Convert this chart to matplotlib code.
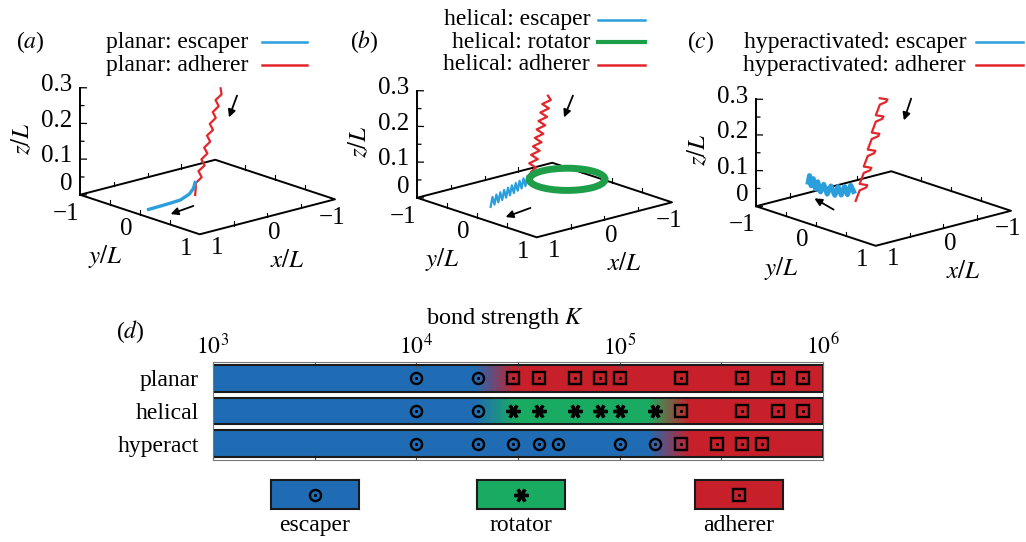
import numpy as np
import matplotlib
matplotlib.use('Agg')
import matplotlib.pyplot as plt
from matplotlib.lines import Line2D
from matplotlib.patches import Circle, FancyArrowPatch
from matplotlib.ticker import FixedLocator, NullFormatter
import mpl_toolkits.mplot3d.art3d as art3d
from mpl_toolkits.mplot3d import proj3d

plt.rcParams['font.family'] = 'serif'
plt.rcParams['font.serif'] = ['Liberation Serif', 'DejaVu Serif']
plt.rcParams['mathtext.fontset'] = 'stix'

# ---- trajectory colours / regime colours
LINE_COL = {'escaper': '#2b9fdc', 'rotator': '#1f9e4a', 'adherer': '#e3262b'}
BAR_COL = {'escaper': '#1f6cb4', 'rotator': '#1aab62', 'adherer': '#c8202a'}

# ---- panel (a): planar trajectories (x/L, y/L, z/L)
a_adherer = [(-0.150, 0.050, 0.300), (-0.157, 0.057, 0.283), (-0.110, 0.010, 0.267),
             (-0.135, 0.035, 0.250), (-0.088, -0.012, 0.233), (-0.112, 0.012, 0.217),
             (-0.065, -0.035, 0.200), (-0.090, -0.010, 0.183), (-0.043, -0.057, 0.167),
             (-0.068, -0.032, 0.150), (-0.021, -0.079, 0.133), (-0.046, -0.054, 0.117),
             (0.001, -0.101, 0.100), (-0.024, -0.076, 0.083), (0.024, -0.124, 0.067),
             (-0.001, -0.099, 0.050), (0.046, -0.146, 0.033), (0.045, -0.145, 0.020),
             (0.050, -0.150, 0.000)]
a_escaper = [(0.05, -0.15, 0.035), (0.08, -0.145, 0.02), (0.15, -0.135, 0.008),
             (0.30, -0.115, 0.0), (0.45, -0.10, 0.0), (0.60, -0.09, 0.0), (0.80, -0.08, 0.0)]

# ---- panel (b): helical trajectories
b_adherer = [(-0.050, 0.000, 0.290), (-0.092, 0.002, 0.276), (-0.043, -0.087, 0.262),
             (-0.115, -0.056, 0.248), (-0.066, -0.144, 0.234), (-0.138, -0.113, 0.220),
             (-0.089, -0.201, 0.206), (-0.161, -0.170, 0.192), (-0.112, -0.258, 0.178),
             (-0.184, -0.227, 0.164), (-0.135, -0.315, 0.150), (-0.207, -0.284, 0.136),
             (-0.158, -0.372, 0.122), (-0.230, -0.341, 0.108), (-0.181, -0.429, 0.094),
             (-0.253, -0.398, 0.080), (-0.204, -0.486, 0.066), (-0.276, -0.455, 0.052),
             (-0.257, -0.513, 0.038), (-0.269, -0.542, 0.024), (-0.280, -0.570, 0.010)]
b_escaper = [(-0.280, -0.570, 0.0), (-0.235, -0.552, 0.025), (-0.190, -0.533, 0.0),
             (-0.145, -0.515, 0.025), (-0.100, -0.496, 0.0), (-0.055, -0.478, 0.025),
             (-0.010, -0.459, 0.0), (0.035, -0.441, 0.025), (0.080, -0.422, 0.0),
             (0.125, -0.404, 0.025), (0.170, -0.385, 0.0), (0.215, -0.367, 0.025),
             (0.260, -0.348, 0.0), (0.305, -0.330, 0.025), (0.350, -0.311, 0.0),
             (0.395, -0.293, 0.025), (0.440, -0.274, 0.0), (0.485, -0.256, 0.025),
             (0.530, -0.237, 0.0), (0.575, -0.219, 0.025), (0.620, -0.200, 0.0)]
b_rotator_centre = (-0.60, -0.30)
b_rotator_radius = 0.42
b_rotator_z = 0.012

# ---- panel (c): hyperactivated trajectories
c_adherer = [(-0.14, -0.22, 0.290), (-0.20, -0.16, 0.287), (-0.19, -0.17, 0.280),
             (-0.14, -0.22, 0.272),
             (-0.11, -0.253, 0.242), (-0.17, -0.193, 0.239), (-0.16, -0.203, 0.232),
             (-0.11, -0.253, 0.224),
             (-0.08, -0.287, 0.193), (-0.14, -0.227, 0.190), (-0.13, -0.237, 0.183),
             (-0.08, -0.287, 0.175),
             (-0.05, -0.320, 0.145), (-0.11, -0.260, 0.142), (-0.10, -0.270, 0.135),
             (-0.05, -0.320, 0.127),
             (-0.02, -0.353, 0.097), (-0.08, -0.293, 0.094), (-0.07, -0.303, 0.087),
             (-0.02, -0.353, 0.079),
             (0.01, -0.387, 0.048), (-0.05, -0.327, 0.045), (-0.04, -0.337, 0.038),
             (0.01, -0.387, 0.030),
             (0.04, -0.420, 0.000)]
c_escaper = [(0.00, -0.50, 0.020), (0.03, -0.515, 0.038), (0.06, -0.535, 0.012),
             (0.09, -0.55, 0.036), (0.12, -0.57, 0.012), (0.15, -0.59, 0.036),
             (0.18, -0.61, 0.012), (0.21, -0.64, 0.038), (0.24, -0.67, 0.015),
             (0.265, -0.70, 0.042), (0.285, -0.73, 0.020), (0.305, -0.755, 0.048),
             (0.32, -0.775, 0.028), (0.335, -0.795, 0.056), (0.35, -0.815, 0.036),
             (0.36, -0.83, 0.064), (0.365, -0.845, 0.045)]

# ---- panel (d): bond strength phase diagram
rows = ['planar', 'helical', 'hyperact']
row_regimes = {'planar': ['escaper', 'adherer'],
               'helical': ['escaper', 'rotator', 'adherer'],
               'hyperact': ['escaper', 'adherer']}
row_bounds = {'planar': [2.45e4], 'helical': [2.45e4, 1.75e5], 'hyperact': [1.75e5]}
planar_esc = [1e4, 2e4]
planar_adh = [3e4, 4e4, 6e4, 8e4, 1e5, 2e5, 4e5, 6e5, 8e5]
helical_esc = [1e4, 2e4]
helical_rot = [3e4, 4e4, 6e4, 8e4, 1e5, 1.5e5]
helical_adh = [2e5, 4e5, 6e5, 8e5]
hyper_esc = [1e4, 2e4, 3e4, 4e4, 5e4, 1e5, 1.5e5]
hyper_adh = [2e5, 3e5, 4e5, 5e5]
k_ticks = [1e3, 1e4, 1e5, 1e6]
k_ticklabels = [r'$10^3$', r'$10^4$', r'$10^5$', r'$10^6$']

FW, FH = 1026, 542
fig = plt.figure(figsize=(FW / 100, FH / 100), dpi=100)


def fpx(x, y):
    return (x / FW, 1 - y / FH)


def lab(v):
    return '\u2212' + f'{abs(v):g}' if v < 0 else f'{v:g}'


def label3d(ax, x, y, z, s, **kw):
    # project the 3D anchor with the axes' own projection, then place a 2D text
    xp, yp, _ = proj3d.proj_transform(x, y, z, ax.get_proj())
    ax.text2D(xp, yp, s, transform=ax.transData, **kw)


def panel3d(cx, cy):
    W = 280
    left = cx - 0.5135 * W
    top = cy - 0.4865 * W
    ax = fig.add_axes([left / FW, 1 - (top + W) / FH, W / FW, W / FH],
                      projection='3d', proj_type='ortho')
    ax.view_init(elev=17, azim=48.5)
    ax.set_box_aspect((1, 1, 0.62), zoom=270.7 / W)
    ax.set_axis_off()
    ax.set_xlim(-1, 1, view_margin=0)
    ax.set_ylim(-1, 1, view_margin=0)
    ax.set_zlim(0, 0.3, view_margin=0)
    # base square and z axis
    bx = [1, 1, -1, -1, 1]
    by = [-1, 1, 1, -1, -1]
    ax.plot(bx, by, [0] * 5, color='k', lw=1.4)
    ax.plot([1, 1], [-1, -1], [0, 0.3], color='k', lw=1.4)
    for z in np.arange(0, 0.301, 0.05):
        d = 0.05 if round(z * 100) % 10 == 0 else 0.03
        ax.plot([1, 1 - d], [-1, -1 + d], [z, z], color='k', lw=0.9)
    for v in [-0.5, 0, 0.5]:
        for ex, ey in [(1, v), (v, 1), (-1, v), (v, -1)]:
            ax.plot([ex, ex], [ey, ey], [0, 0.012], color='k', lw=0.8)
    fs = 18
    for z in [0, 0.1, 0.2, 0.3]:
        zl = z + 0.024 if z == 0 else z
        label3d(ax, 1, -1.13, zl, f'{z:g}', ha='right', va='center', fontsize=fs)
    for v in [-1, 0, 1]:
        label3d(ax, 0.85 * v, 1.12, -0.038, lab(v), ha='center', va='center', fontsize=fs)
        zy = -0.044 if v == -1 else -0.03
        label3d(ax, 1.2, v, zy, lab(v), ha='center', va='center', fontsize=fs)
    label3d(ax, -0.12, 1.2, -0.118, r'$x/L$', ha='center', va='center', fontsize=fs)
    label3d(ax, 1.38, -0.15, -0.108, r'$y/L$', ha='center', va='center', fontsize=fs)
    label3d(ax, 1.5, -1.4, 0.16, r'$z/L$', ha='center', va='center', fontsize=fs,
            rotation=90)
    return ax


def track(ax, pts, kind, lw=1.6):
    x, y, z = np.array(pts).T
    ax.plot(x, y, z, color=LINE_COL[kind], lw=lw)


# (a)
axa = panel3d(207.5, 143.5)
track(axa, a_adherer, 'adherer')
track(axa, a_escaper, 'escaper', lw=2.4)

# (b)
axb = panel3d(544.5, 146.5)
ring = Circle(b_rotator_centre, b_rotator_radius, fill=False,
              ec=LINE_COL['rotator'], lw=5)
axb.add_patch(ring)
art3d.pathpatch_2d_to_3d(ring, z=b_rotator_z, zdir='z')
track(axb, b_adherer, 'adherer')
track(axb, b_escaper, 'escaper')

# (c)
axc = panel3d(883.5, 155)
track(axc, c_adherer, 'adherer')
track(axc, c_escaper, 'escaper', lw=3.6)

# panel letters and legends
for s, (x, y) in zip(['a', 'b', 'c'], [(30, 42), (364, 42), (701, 42)]):
    fig.text(*fpx(x, y), f'(${s}$)', ha='center', va='center', fontsize=17)

legends = [
    (248, 262, 307, [(42, 'planar: escaper', 'escaper'), (65, 'planar: adherer', 'adherer')]),
    (590, 598, 645, [(20, 'helical: escaper', 'escaper'), (42, 'helical: rotator', 'rotator'),
                     (65, 'helical: adherer', 'adherer')]),
    (966, 976, 1023, [(42, 'hyperactivated: escaper', 'escaper'),
                      (65, 'hyperactivated: adherer', 'adherer')]),
]
for xt, x0, x1, items in legends:
    for y, txt, kind in items:
        fig.text(*fpx(xt, y), txt, ha='right', va='center', fontsize=17)
        lw = 3.0 if kind == 'rotator' else 1.8
        fig.add_artist(Line2D([x0 / FW, x1 / FW], [1 - y / FH] * 2,
                              transform=fig.transFigure, color=LINE_COL[kind], lw=lw))

# direction arrows (figure pixels: tail -> head)
arrows = [((238, 93), (228, 120)), ((196, 205), (168, 215)),
          ((574, 93), (563, 120)), ((533, 207), (503, 218)),
          ((912, 96), (903, 123)), ((836, 211), (812, 197))]
for tail, head in arrows:
    fig.add_artist(FancyArrowPatch(fpx(*tail), fpx(*head), transform=fig.transFigure,
                                   arrowstyle='-|>', mutation_scale=11, lw=1.3, color='k'))

# ---- panel (d)
axd = fig.add_axes([213 / FW, 1 - 460 / FH, 610 / FW, 98 / FH])
axd.set_xscale('log')
ypos = {'planar': 2, 'helical': 1, 'hyperact': 0}
edges = np.logspace(3, 6, 601)
mids = np.log10(np.sqrt(edges[:-1] * edges[1:]))
hw = 0.1
for r in rows:
    regs = row_regimes[r]
    rgb = np.tile(np.array(matplotlib.colors.to_rgb(BAR_COL[regs[0]])), (len(mids), 1))
    for b, nxt in zip(row_bounds[r], regs[1:]):
        w = np.clip((mids - (np.log10(b) - hw)) / (2 * hw), 0, 1)[:, None]
        rgb = rgb * (1 - w) + np.array(matplotlib.colors.to_rgb(BAR_COL[nxt])) * w
    y = ypos[r]
    axd.pcolormesh(edges, [y - 0.41, y + 0.41], rgb[None, :, :], shading='flat',
                   zorder=1, rasterized=True)
    axd.barh(y, 1e6 - 1e3, left=1e3, height=0.82, fill=False, edgecolor='#1a1a1a',
             lw=1.5, zorder=2)

marker_sets = [
    ('planar', planar_esc, 'escaper'), ('planar', planar_adh, 'adherer'),
    ('helical', helical_esc, 'escaper'), ('helical', helical_rot, 'rotator'),
    ('helical', helical_adh, 'adherer'),
    ('hyperact', hyper_esc, 'escaper'), ('hyperact', hyper_adh, 'adherer'),
]


def regime_marker(ax, xs, ys, kind):
    if kind == 'escaper':
        ax.plot(xs, ys, 'o', ms=8, mfc='none', mec='k', mew=1.7, zorder=3)
        ax.plot(xs, ys, '.', ms=2.5, color='k', zorder=3)
    elif kind == 'adherer':
        ax.plot(xs, ys, 's', ms=8, mfc='none', mec='k', mew=1.7, zorder=3)
        ax.plot(xs, ys, '.', ms=2.5, color='k', zorder=3)
    else:
        ax.plot(xs, ys, marker=(6, 2, 90), ls='none', ms=10, mec='k', mew=2.4, zorder=3)


for r, ks, kind in marker_sets:
    regime_marker(axd, ks, [ypos[r]] * len(ks), kind)

axd.set_xlim(1e3, 1e6)
axd.set_ylim(-0.5, 2.5)
axd.xaxis.tick_top()
axd.set_xticks(k_ticks)
axd.set_xticklabels(k_ticklabels)
axd.xaxis.set_minor_locator(FixedLocator([10 ** 3.5, 10 ** 4.5, 10 ** 5.5]))
axd.xaxis.set_minor_formatter(NullFormatter())
axd.tick_params(axis='x', which='both', direction='in', top=True, bottom=True,
                length=4, width=0.8, color='#555', labelsize=17, pad=2)
axd.set_yticks([ypos[r] for r in rows])
axd.set_yticklabels(rows)
axd.tick_params(axis='y', length=0, pad=10, labelsize=17)
axd.xaxis.set_label_position('top')
axd.set_xlabel(r'bond strength $K$', fontsize=17.5, labelpad=7)
axd.xaxis.label.set_x((505 - 213) / 610)
for sp in axd.spines.values():
    sp.set_color('#777')
    sp.set_linewidth(0.8)
fig.text(*fpx(130, 332), '($d$)', ha='center', va='center', fontsize=17)

# regime key
for kind, x0 in [('escaper', 271), ('rotator', 477), ('adherer', 695)]:
    axk = fig.add_axes([x0 / FW, 1 - 509 / FH, 88 / FW, 29 / FH])
    axk.set_facecolor(BAR_COL[kind])
    axk.set_xlim(0, 1)
    axk.set_ylim(0, 1)
    regime_marker(axk, [0.5], [0.5], kind)
    axk.set_xticks([])
    axk.set_yticks([])
    for sp in axk.spines.values():
        sp.set_color('#1a1a1a')
        sp.set_linewidth(1.5)
    axk.set_xlabel(kind, fontsize=17, labelpad=4)

fig.savefig('out.png', dpi=100)
